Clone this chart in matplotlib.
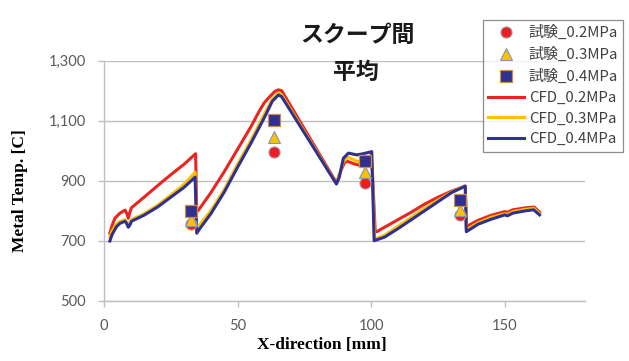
import matplotlib
matplotlib.use("Agg")
import matplotlib.pyplot as plt
from matplotlib.ticker import FuncFormatter

# CFD temperature profiles along the scoop (X in mm, temperature in C)
x_cfd02 = [2.2, 3, 4.1, 6, 7.9, 8.6, 9.1, 9.7, 10.3, 15, 20, 25, 30, 34.3, 34.7, 35.2,
           40, 45, 50, 55, 58, 60, 62, 64, 65.3, 66.5, 87, 88.5, 90, 91, 94, 97.8, 100.3,
           101.5, 102.1, 105, 110, 115, 120, 125, 130, 135.2, 135.6, 140, 145, 150, 151,
           153, 158, 161, 163]
t_cfd02 = [725, 750, 775, 792, 802, 790, 775, 795, 810, 845, 883, 920, 955, 990, 797, 800,
           860, 930, 1005, 1080, 1130, 1160, 1180, 1198, 1203, 1200, 893, 930, 960, 965, 955,
           947, 960, 730, 730, 745, 770, 795, 822, 845, 865, 882, 747, 768, 785, 797, 795,
           803, 810, 812, 795]

x_cfd03 = [2.2, 3, 4.7, 6, 7.9, 8.6, 9.1, 9.7, 10.3, 15, 20, 25, 30, 34.1, 34.7, 36,
           40, 45, 50, 55, 60, 63, 65.3, 66.5, 87, 88, 89.6, 91.5, 94.6, 97.8, 100.2,
           101.3, 105, 110, 115, 120, 125, 130, 135.2, 135.6, 140, 145, 150, 151, 153,
           158, 160.8, 163]
t_cfd03 = [712, 732, 755, 764, 770, 760, 752, 760, 770, 790, 818, 852, 888, 928, 740, 755,
           800, 870, 955, 1035, 1122, 1172, 1192, 1186, 890, 915, 965, 978, 965, 958, 992,
           706, 718, 748, 778, 808, 835, 862, 882, 736, 760, 778, 790, 788, 797, 805, 808,
           790]

x_cfd04 = [2.2, 3, 4.7, 6, 7.9, 8.6, 9.1, 9.7, 10.3, 15, 20, 25, 30, 34.1, 34.7, 36,
           40, 45, 50, 55, 60, 63, 65.3, 66.5, 87, 88, 89.6, 91.5, 94.6, 97, 100.2,
           101.1, 105, 110, 115, 120, 125, 130, 135.2, 135.6, 140, 145, 150, 151, 153,
           158, 160.8, 163]
t_cfd04 = [699, 720, 747, 758, 765, 755, 745, 752, 765, 785, 812, 845, 878, 912, 725, 742,
           790, 862, 945, 1025, 1110, 1165, 1186, 1180, 889, 910, 975, 992, 986, 990, 997,
           700, 712, 740, 770, 800, 830, 860, 882, 730, 755, 772, 786, 783, 792, 800, 803,
           786]

# Measured values at four thermocouple positions
x_exp = [32.6, 63.7, 97.8, 133.3]
t_exp02 = [757, 997, 893, 786]
t_exp03 = [768, 1047, 930, 802]
t_exp04 = [800, 1102, 967, 836]

x_ticks = [0, 50, 100, 150]
y_ticks = [500, 700, 900, 1100, 1300]

RED = "#e8251f"
YELLOW = "#ffc000"
NAVY = "#2e3192"
GRID = "#bfbfbf"
TICK_TXT = "#595959"
CJK = ["Noto Sans CJK JP", "DejaVu Sans"]

fig = plt.figure(figsize=(6.29, 3.61), dpi=100)
ax = fig.add_axes([0.1653, 0.167, 0.7647, 0.6648])

ax.plot(x_exp, t_exp02, linestyle="none", marker="o", markersize=8,
        markerfacecolor="#ee1c25", markeredgecolor="#a0a0a0", markeredgewidth=0.8,
        label="試験_0.2MPa", zorder=4)
ax.plot(x_exp, t_exp03, linestyle="none", marker="^", markersize=8,
        markerfacecolor=YELLOW, markeredgecolor="#8497b0", markeredgewidth=0.8,
        label="試験_0.3MPa", zorder=4)
ax.plot(x_exp, t_exp04, linestyle="none", marker="s", markersize=8,
        markerfacecolor=NAVY, markeredgecolor="#d08a4a", markeredgewidth=0.9,
        label="試験_0.4MPa", zorder=4)

ax.plot(x_cfd02, t_cfd02, color=RED, lw=2.2, label="CFD_0.2MPa", zorder=3)
ax.plot(x_cfd03, t_cfd03, color=YELLOW, lw=2.2, label="CFD_0.3MPa", zorder=3)
ax.plot(x_cfd04, t_cfd04, color=NAVY, lw=2.2, label="CFD_0.4MPa", zorder=3)

ax.set_xlim(0, 180)
ax.set_ylim(500, 1300)
ax.set_xticks(x_ticks)
ax.set_yticks(y_ticks)
ax.yaxis.set_major_formatter(FuncFormatter(lambda v, p: f"{int(v):,}"))
ax.grid(axis="y", color=GRID, lw=1.0)
ax.set_axisbelow(True)
for s in ("top", "right"):
    ax.spines[s].set_visible(False)
for s in ("left", "bottom"):
    ax.spines[s].set_color(GRID)
    ax.spines[s].set_linewidth(1.0)
ax.tick_params(axis="both", colors=GRID, length=4, width=1.0, labelcolor=TICK_TXT,
               labelsize=10.5)
ax.tick_params(axis="y", pad=9)
ax.tick_params(axis="x", pad=9)
for lab in ax.get_xticklabels() + ax.get_yticklabels():
    lab.set_family("Lato")

ax.set_xlabel("X-direction [mm]", family="Liberation Serif", fontweight="bold",
              fontsize=12.5)
ax.set_ylabel("Metal Temp. [C]", family="Liberation Serif", fontweight="bold",
              fontsize=12.5)
ax.xaxis.set_label_coords(0.453, -0.185)
ax.xaxis.label.set_va("center")
ax.yaxis.set_label_coords(-0.175, 0.459)
ax.yaxis.label.set_va("center")

# Two-line chart title
fig.text(0.568, 0.903, "スクープ間", family=CJK, fontweight="bold", fontsize=16.5,
         ha="center", va="center", color="#1a1a1a")
fig.text(0.565, 0.798, "平均", family=CJK, fontweight="bold", fontsize=16.5,
         ha="center", va="center", color="#1a1a1a")

leg = ax.legend(loc="upper left", bbox_to_anchor=(0.788, 1.17), frameon=True,
                fancybox=False, edgecolor="#707070",
                prop={"family": CJK, "size": 10.8},
                handlelength=2.4, handletextpad=0.3, labelspacing=0.45,
                borderpad=0.35, borderaxespad=0)
for t in leg.get_texts():
    t.set_color("#404040")
leg.get_frame().set_linewidth(0.9)

fig.savefig("out.png", dpi=100)
